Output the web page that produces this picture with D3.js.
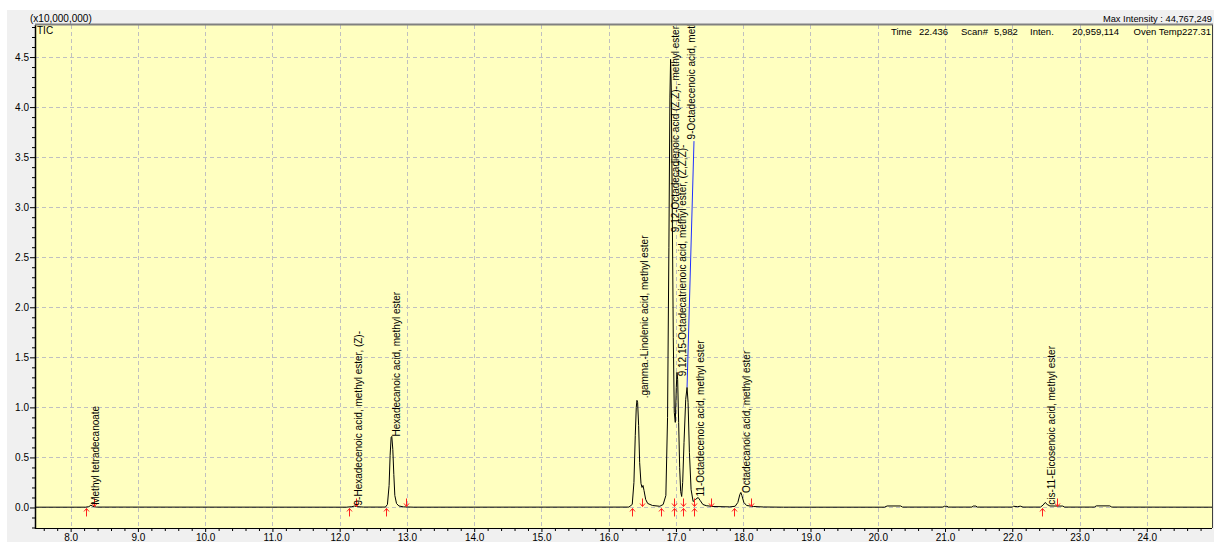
<!DOCTYPE html>
<html><head><meta charset="utf-8">
<script src="https://cdn.jsdelivr.net/npm/d3@7"></script>
<style>
body{margin:0;background:#fff;}
text{font-family:"Liberation Sans",Arial,sans-serif;fill:#000;}
</style>
</head><body>
<svg id="chart" width="1214" height="542"></svg>
<script>
// ---------- DATA ----------
const traceTime = [7.47,8.22,8.27,8.30,8.33,8.38,12.10,12.18,12.22,12.27,12.35,12.68,12.71,12.735,12.75,12.765,12.775,12.79,12.805,12.82,12.845,12.88,12.95,13.10,
16.30,16.35,16.375,16.395,16.41,16.42,16.43,16.445,16.46,16.48,16.495,16.51,16.525,16.55,16.58,16.65,16.76,16.81,16.85,16.875,16.895,16.91,16.92,16.93,16.945,16.96,16.975,16.99,17.005,17.015,17.025,17.04,17.055,17.07,17.085,17.10,17.12,17.145,17.165,17.18,17.20,17.225,17.255,17.29,17.33,17.36,17.40,17.45,17.55,17.80,17.88,17.92,17.95,17.965,17.98,18.01,18.05,18.15,18.30,18.60,
20.10,20.14,20.34,20.37,20.97,20.99,21.03,21.05,21.40,21.42,21.46,21.48,22.00,22.02,22.08,22.12,22.16,22.42,22.46,22.49,22.52,22.56,22.75,22.78,23.22,23.25,23.45,23.48,24.97];
const traceIntensity = [0.003,0.003,0.008,0.022,0.012,0.004,0.003,0.008,0.014,0.008,0.004,0.004,0.03,0.22,0.52,0.70,0.71,0.58,0.33,0.12,0.04,0.015,0.006,0.003,
0.004,0.03,0.25,0.72,1.0,1.07,1.05,0.82,0.45,0.24,0.20,0.22,0.17,0.08,0.04,0.02,0.012,0.03,0.12,0.9,2.6,4.1,4.477,4.2,3.0,1.7,0.95,0.85,1.2,1.35,1.28,0.85,0.4,0.16,0.11,0.25,0.65,1.08,1.2,1.05,0.55,0.18,0.06,0.08,0.10,0.07,0.03,0.018,0.01,0.006,0.012,0.05,0.13,0.15,0.12,0.05,0.02,0.01,0.005,0.003,
0.003,0.015,0.015,0.004,0.004,0.012,0.012,0.004,0.004,0.014,0.014,0.004,0.004,0.012,0.008,0.013,0.004,0.004,0.025,0.05,0.03,0.015,0.014,0.004,0.004,0.016,0.016,0.004,0.003];

const peakNames = [
  "Methyl tetradecanoate",
  "9-Hexadecenoic acid, methyl ester, (Z)-",
  "Hexadecanoic acid, methyl ester",
  ".gamma.-Linolenic acid, methyl ester",
  "9,12-Octadecadienoic acid (Z,Z)-, methyl ester",
  "9,12,15-Octadecatrienoic acid, methyl ester, (Z,Z,Z)-",
  "9-Octadecenoic acid, methyl ester",
  "11-Octadecenoic acid, methyl ester",
  "Octadecanoic acid, methyl ester",
  "cis-11-Eicosenoic acid, methyl ester"
];
const peakStart = [8.23,12.145,12.69,16.34,16.778,16.976,17.105,17.273,17.863,22.44];
const peakEnd   = [8.35,12.25,12.98,16.50,16.976,17.105,17.273,17.521,18.111,22.66];
const labelTime   = [8.415,12.325,12.897,16.577,17.04,17.149,17.283,17.422,18.094,22.63];
const labelHeight = [0.027,0.02,0.71,1.09,2.75,1.31,3.677,0.11,0.144,0.027];
// leader line (label of 9-Octadecenoic acid -> its peak apex)
const leaderTime = [17.268,17.165];
const leaderHeight = [3.66,1.20];

const xTickValues = [8,9,10,11,12,13,14,15,16,17,18,19,20,21,22,23,24];
const xTickLabels = ["8.0","9.0","10.0","11.0","12.0","13.0","14.0","15.0","16.0","17.0","18.0","19.0","20.0","21.0","22.0","23.0","24.0"];
const yTickValues = [0,0.5,1,1.5,2,2.5,3,3.5,4,4.5];
const yTickLabels = ["0.0","0.5","1.0","1.5","2.0","2.5","3.0","3.5","4.0","4.5"];

// ---------- LAYOUT ----------
const W = 1214, H = 542;
const L = 35, R = 1212, T = 25, B = 528;
const svg = d3.select("#chart");

const x = d3.scaleLinear().domain([7.47, 24.97]).range([L, R]);
const y = d3.scaleLinear().domain([-0.205, 4.82]).range([B, T]);

// panel background
svg.append("rect").attr("x",7).attr("y",10).attr("width",W-7).attr("height",H-10).attr("fill","#f0f0f0");
svg.append("rect").attr("x",L).attr("y",T).attr("width",R-L).attr("height",B-T).attr("fill","#ffffc0");

svg.append("defs").append("clipPath").attr("id","clip")
  .append("rect").attr("x",L).attr("y",T).attr("width",R-L).attr("height",B-T);

// grid
const grid = svg.append("g").attr("stroke","#c0c0c0").attr("stroke-dasharray","4,3").attr("stroke-width",1);
xTickValues.forEach(v=>{
  grid.append("line").attr("x1",Math.round(x(v))+0.5).attr("x2",Math.round(x(v))+0.5).attr("y1",T).attr("y2",B);
});
yTickValues.forEach(v=>{
  grid.append("line").attr("x1",L).attr("x2",R).attr("y1",Math.round(y(v))+0.5).attr("y2",Math.round(y(v))+0.5);
});

// axes
const xMinor = d3.range(7.6, 24.97, 0.2).filter(v=>Math.abs(v-Math.round(v))>0.01);
const yMinor = d3.range(-0.2, 4.82, 0.1).filter(v=>Math.abs(v*2-Math.round(v*2))>0.01);

const xAxis = d3.axisBottom(x).tickValues(xTickValues).tickFormat((d,i)=>xTickLabels[i]).tickSize(4).tickPadding(2);
const gx = svg.append("g").attr("transform",`translate(0,${B})`).call(xAxis);
gx.select(".domain").remove();
gx.selectAll("text").attr("font-size","10px").attr("font-family","'Liberation Sans',Arial,sans-serif").attr("dy","0.75em").attr("y",5.5);
const xAxisMinor = d3.axisBottom(x).tickValues(xMinor).tickFormat("").tickSize(3);
const gxm = svg.append("g").attr("transform",`translate(0,${B})`).call(xAxisMinor);
gxm.select(".domain").remove();

const yAxis = d3.axisLeft(y).tickValues(yTickValues).tickFormat((d,i)=>yTickLabels[i]).tickSize(5).tickPadding(1);
const gy = svg.append("g").attr("transform",`translate(${L},0)`).call(yAxis);
gy.select(".domain").remove();
gy.selectAll("text").attr("font-size","10px").attr("font-family","'Liberation Sans',Arial,sans-serif");
const yAxisMinor = d3.axisLeft(y).tickValues(yMinor).tickFormat("").tickSize(3);
const gym = svg.append("g").attr("transform",`translate(${L},0)`).call(yAxisMinor);
gym.select(".domain").remove();

// axis lines / border
svg.append("line").attr("x1",L+0.5).attr("x2",L+0.5).attr("y1",T).attr("y2",B+1).attr("stroke","#000").attr("stroke-width",1.5);
svg.append("line").attr("x1",L).attr("x2",R).attr("y1",B+0.5).attr("y2",B+0.5).attr("stroke","#000");
svg.append("line").attr("x1",L).attr("x2",R+1).attr("y1",T-0.5).attr("y2",T-0.5).attr("stroke","#808080").attr("stroke-width",2);
svg.append("line").attr("x1",R+0.5).attr("x2",R+0.5).attr("y1",T).attr("y2",B).attr("stroke","#404040");

const plot = svg.append("g").attr("clip-path","url(#clip)");

// trace
const pts = traceTime.map((t,i)=>[t, traceIntensity[i]]);
plot.append("path").datum(pts)
  .attr("d", d3.line().x(d=>x(d[0])).y(d=>y(d[1])))
  .attr("fill","none").attr("stroke","#000").attr("stroke-width",1);

// start/end markers
const y0 = y(0);
const arrowG = plot.append("g").attr("stroke","#ff2020").attr("stroke-width",1).attr("fill","none");
peakStart.forEach(t=>{
  const px = Math.round(x(t))+0.5;
  arrowG.append("path").attr("d",`M${px},${y0+9}V${y0+1}M${px-2.5},${y0+4}L${px},${y0+1}L${px+2.5},${y0+4}`);
});
peakEnd.forEach(t=>{
  const px = Math.round(x(t))+0.5;
  arrowG.append("path").attr("d",`M${px},${y0-9}V${y0-1}M${px-2.5},${y0-4}L${px},${y0-1}L${px+2.5},${y0-4}`);
});

// leader line
plot.append("line")
  .attr("x1",x(leaderTime[0])).attr("y1",y(leaderHeight[0]))
  .attr("x2",x(leaderTime[1])).attr("y2",y(leaderHeight[1]))
  .attr("stroke","#2030ff").attr("stroke-width",1);

// peak labels
peakNames.forEach((n,i)=>{
  plot.append("text")
    .attr("transform",`translate(${x(labelTime[i])},${y(labelHeight[i])}) rotate(-90)`)
    .attr("font-size","10px")
    .attr("text-anchor","start")
    .text(n);
});

// header texts
svg.append("text").attr("x",30).attr("y",22).attr("font-size","10px").text("(x10,000,000)");
svg.append("text").attr("x",1212).attr("y",22).attr("font-size","9.3px").attr("text-anchor","end").text("Max Intensity : 44,767,249");
svg.append("text").attr("x",37).attr("y",33.5).attr("font-size","10px").text("TIC");
const hdr = [["Time",891,"start"],["22.436",919,"start"],["Scan#",961,"start"],["5,982",994,"start"],["Inten.",1030,"start"],["20,959,114",1119,"end"],["Oven Temp227.31",1211,"end"]];
hdr.forEach(h=>{
  svg.append("text").attr("x",h[1]).attr("y",34.5).attr("font-size","9.5px").attr("text-anchor",h[2]).text(h[0]);
});
</script>
</body></html>
